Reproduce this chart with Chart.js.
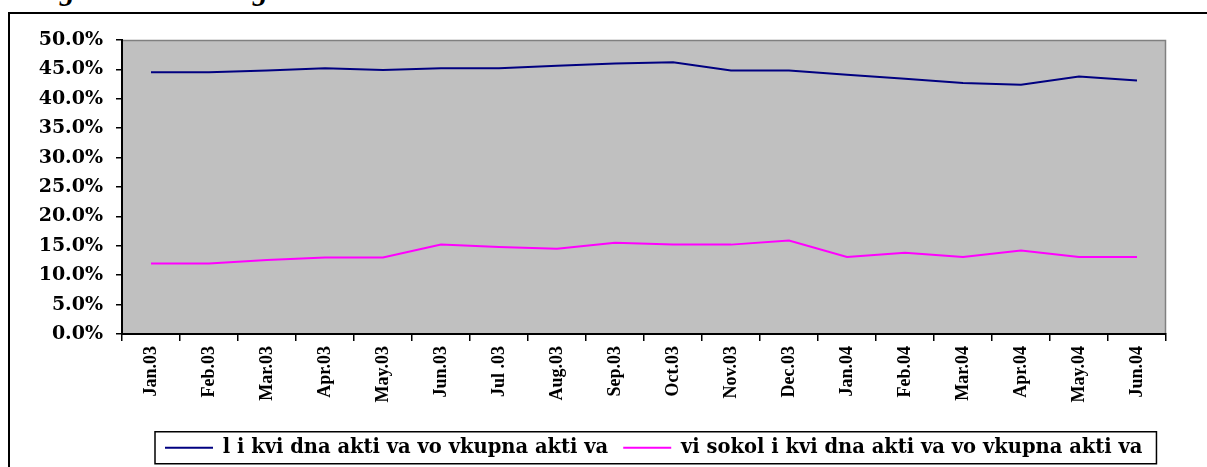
<!DOCTYPE html>
<html><head><meta charset="utf-8">
<script src="https://cdn.jsdelivr.net/npm/chart.js@4.4.0/dist/chart.umd.min.js"></script>
<style>
html,body{margin:0;padding:0;width:1207px;height:467px;overflow:hidden;background:#fff;position:relative}
#frame{position:absolute;left:8px;top:12px;width:1300px;height:600px;border-left:2px solid #000;border-top:2px solid #000;}
.frag{position:absolute;top:-25px;font:italic bold 30px 'Liberation Serif';line-height:30px;color:#000;white-space:pre}
#wrap{position:absolute;left:0;top:0;width:1207px;height:467px}
</style></head><body>
<div id="frame"></div>
<span class="frag" style="left:-8px">p</span>
<span class="frag" style="left:60px">g</span>
<span class="frag" style="left:253px">g</span>
<div id="wrap"><canvas id="c" width="1207" height="467"></canvas></div>
<script>
const categories = ['Jan.03','Feb.03','Mar.03','Apr.03','May.03','Jun.03','Jul .03','Aug.03','Sep.03','Oct.03','Nov.03','Dec.03','Jan.04','Feb.04','Mar.04','Apr.04','May.04','Jun.04'];
const likvidna = [44.5,44.5,44.8,45.2,44.9,45.2,45.2,45.6,46.0,46.2,44.8,44.8,44.1,43.4,42.7,42.4,43.8,43.1];
const visokolikvidna = [12.0,12.0,12.6,13.0,13.0,15.2,14.8,14.5,15.5,15.2,15.2,15.9,13.1,13.8,13.1,14.2,13.1,13.1];
const seriesLabels = ['l i kvi dna akti va vo vkupna akti va','vi sokol i kvi dna akti va vo vkupna akti va'];
const yMin = 0, yMax = 50, yStep = 5;

const LEG_PAD = 15;
const plotBg = {
  id:'plotBg',
  beforeDraw(chart){
    const {ctx, chartArea:a} = chart;
    ctx.save();
    ctx.fillStyle = '#c0c0c0';
    ctx.fillRect(a.left, a.top, a.right-a.left, a.bottom-a.top);
    ctx.strokeStyle = '#808080';
    ctx.lineWidth = 1.5;
    ctx.beginPath();
    ctx.moveTo(a.left, a.top+0.5);
    ctx.lineTo(a.right-0.5, a.top+0.5);
    ctx.lineTo(a.right-0.5, a.bottom);
    ctx.stroke();
    ctx.restore();
  },
  afterLayout(chart){
    const lg = chart.legend;
    lg.left = 165 - LEG_PAD; lg.right = lg.left + lg.width;
    lg.top = 423; lg.bottom = lg.top + lg.height;
  },
  afterDraw(chart){
    const lg = chart.legend, hb = lg.legendHitBoxes;
    if(!hb || !hb.length) return;
    const f = hb[0], l = hb[hb.length-1];
    const cy = f.top + f.height/2;
    const {ctx} = chart;
    ctx.save();
    ctx.strokeStyle = '#000'; ctx.lineWidth = 1.5;
    ctx.strokeRect(f.left-10, cy-16, (l.left+l.width+14)-(f.left-10), 32);
    ctx.restore();
  }
};

new Chart(document.getElementById('c'), {
  type:'line',
  data:{
    labels: categories,
    datasets:[
      {label:seriesLabels[0], data:likvidna, borderColor:'#000080', backgroundColor:'#000080', borderWidth:2, pointRadius:0, tension:0},
      {label:seriesLabels[1], data:visokolikvidna, borderColor:'#ff00ff', backgroundColor:'#ff00ff', borderWidth:2, pointRadius:0, tension:0}
    ]
  },
  options:{
    responsive:false, devicePixelRatio:1, animation:false,
    layout:{padding:{top:40,right:41,left:0,bottom:0}},
    plugins:{
      tooltip:{enabled:false},
      legend:{
        position:'bottom', align:'start',
        labels:{
          boxWidth:48, boxHeight:2, padding:LEG_PAD, color:'#000',
          font:{family:'DejaVu Serif', weight:'bold', size:19.5},
          generateLabels(chart){
            return Chart.defaults.plugins.legend.labels.generateLabels(chart).map(it => Object.assign(it, {lineWidth:0, fillStyle:it.strokeStyle}));
          }
        }
      }
    },
    scales:{
      x:{
        offset:true,
        ticks:{minRotation:90, maxRotation:90, autoSkip:false, color:'#000', padding:5,
          font:{family:'Liberation Serif', weight:'bold', size:18}},
        grid:{offset:true, drawOnChartArea:false, tickLength:7, color:'#000', lineWidth:1.5},
        border:{color:'#000', width:2},
        afterFit(s){ s.height = 88.5; }
      },
      y:{
        min:yMin, max:yMax,
        ticks:{stepSize:yStep, color:'#000', padding:13,
          font:{family:'DejaVu Serif', weight:'bold', size:19},
          callback:v => Number(v).toFixed(1) + '%'},
        grid:{drawOnChartArea:false, tickLength:6, color:'#000', lineWidth:1.5},
        border:{color:'#000', width:2},
        afterFit(s){ s.width = 122; }
      }
    }
  },
  plugins:[plotBg]
});
</script>
</body></html>
